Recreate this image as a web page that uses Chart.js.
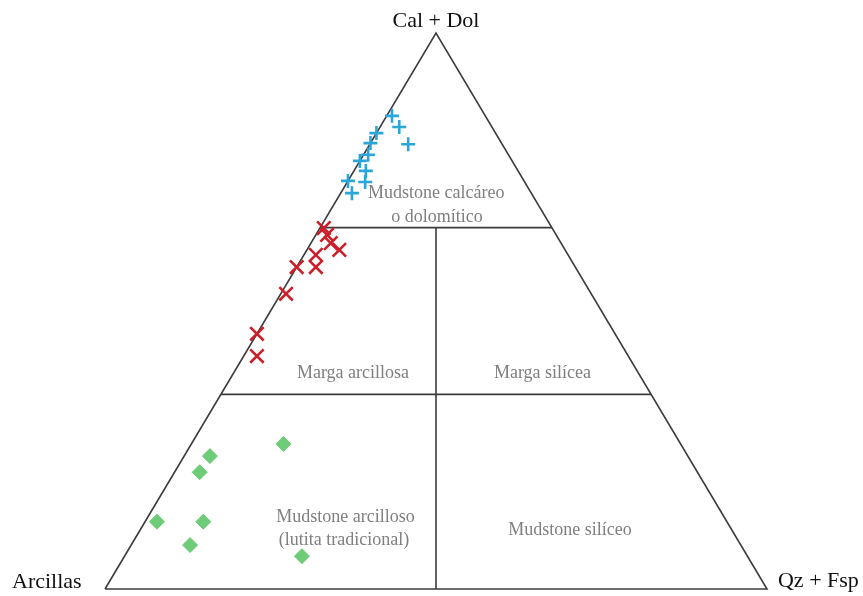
<!DOCTYPE html>
<html lang="es">
<head>
<meta charset="utf-8">
<title>Diagrama ternario de mudstones</title>
<script src="https://cdn.jsdelivr.net/npm/chart.js@4/dist/chart.umd.min.js"></script>
<style>
  html, body { margin: 0; padding: 0; background: #ffffff; }
  #wrap { width: 863px; height: 596px; }
</style>
</head>
<body>
<div id="wrap"><canvas id="ternario" width="863" height="596"></canvas></div>
<script>
// Vertex names of the ternary diagram
const vertices = ['Cal + Dol', 'Arcillas', 'Qz + Fsp'];

// Class boundaries on the Cal + Dol axis (%)
const limitesCalDol = [35, 65];

// Region names
const regiones = ['Mudstone calcáreo', 'o dolomítico', 'Marga arcillosa', 'Marga silícea',
                  'Mudstone arcilloso', '(lutita tradicional)', 'Mudstone silíceo'];

// Samples, composition in % (Cal + Dol, Arcillas, Qz + Fsp)
const calcareoCal = [85.1, 83.1, 80.0, 82.0, 80.2, 78.1, 77.0, 75.2, 73.2, 73.4, 71.2];
const calcareoArc = [14.1, 14.0, 14.2, 18.0, 19.8, 21.2, 23.0, 23.0, 24.1, 26.6, 27.1];
const calcareoQz  = [0.8, 2.9, 5.8, 0.0, 0.0, 0.7, 0.0, 1.8, 2.7, 0.0, 1.7];

const margaCal = [64.9, 63.7, 62.2, 61.0, 60.1, 57.9, 57.9, 53.1, 45.9, 41.9];
const margaArc = [34.5, 34.6, 34.8, 34.1, 38.1, 39.2, 42.1, 46.1, 54.1, 56.1];
const margaQz  = [0.6, 1.7, 3.0, 4.9, 1.8, 2.9, 0.0, 0.8, 0.0, 2.0];

const arcillosoCal = [26.1, 23.9, 21.0, 12.1, 12.1, 7.9, 5.9];
const arcillosoArc = [60.0, 72.2, 75.2, 86.1, 79.1, 83.2, 67.3];
const arcillosoQz  = [13.9, 3.9, 3.8, 1.8, 8.8, 8.9, 26.8];

// Ternary composition -> plane coordinates (Arcillas at (0,0), Qz + Fsp at (1,0), Cal + Dol at (0.5,1))
function ternario(cal, arc, qz) {
  return cal.map((c, i) => {
    const s = c + arc[i] + qz[i];
    const fc = c / s, fq = qz[i] / s;
    return { x: fq + fc / 2, y: fc };
  });
}
function puntoCal(c, q) { return { x: q + c / 2, y: c }; }

const lineStyle = { showLine: true, pointRadius: 0, borderColor: '#3c3c3c', borderWidth: 1.6, fill: false, clip: false, order: 10 };

const datasets = [
  {
    label: 'Mudstone calcáreo o dolomítico',
    data: ternario(calcareoCal, calcareoArc, calcareoQz),
    pointStyle: 'cross', pointRadius: 7, pointBorderWidth: 2.6,
    borderColor: '#2aa6d9', backgroundColor: '#2aa6d9', clip: false, order: 1
  },
  {
    label: 'Marga',
    data: ternario(margaCal, margaArc, margaQz),
    pointStyle: 'crossRot', pointRadius: 9.5, pointBorderWidth: 2.6,
    borderColor: '#cc1f2a', backgroundColor: '#cc1f2a', clip: false, order: 1
  },
  {
    label: 'Mudstone arcilloso',
    data: ternario(arcillosoCal, arcillosoArc, arcillosoQz),
    pointStyle: 'rectRot', pointRadius: 7.5, pointBorderWidth: 1,
    borderColor: '#6ecb78', backgroundColor: '#6ecb78', clip: false, order: 1
  },
  // triangle outline
  Object.assign({ data: [puntoCal(0, 0), puntoCal(1, 0), puntoCal(0, 1), puntoCal(0, 0)] }, lineStyle),
  // horizontal class boundaries
  ...limitesCalDol.map(l => Object.assign({ data: [puntoCal(l / 100, 0), puntoCal(l / 100, 1 - l / 100)] }, lineStyle)),
  // vertical split between clay-rich and silica-rich fields
  Object.assign({ data: [{ x: 0.5, y: 0 }, { x: 0.5, y: limitesCalDol[1] / 100 }] }, lineStyle)
];

// Text anchors in plane coordinates
const textos = [
  { t: vertices[0], x: 0.5,    y: 1.0108, align: 'center', size: 22, color: '#111111' },
  { t: vertices[1], x: -0.1405, y: 0.0018, align: 'left',  size: 22, color: '#111111' },
  { t: vertices[2], x: 1.0166, y: 0.0036, align: 'left',   size: 22, color: '#111111' },
  { t: regiones[0], x: 0.5003, y: 0.7032, align: 'center', size: 18, color: '#7f7f7f' },
  { t: regiones[1], x: 0.5015, y: 0.6600, align: 'center', size: 18, color: '#7f7f7f' },
  { t: regiones[2], x: 0.3746, y: 0.3795, align: 'center', size: 18, color: '#7f7f7f' },
  { t: regiones[3], x: 0.6609, y: 0.3795, align: 'center', size: 18, color: '#7f7f7f' },
  { t: regiones[4], x: 0.3633, y: 0.1205, align: 'center', size: 18, color: '#7f7f7f' },
  { t: regiones[5], x: 0.3610, y: 0.0791, align: 'center', size: 18, color: '#7f7f7f' },
  { t: regiones[6], x: 0.7024, y: 0.0971, align: 'center', size: 18, color: '#7f7f7f' }
];

const etiquetas = {
  id: 'etiquetas',
  beforeDatasetsDraw(chart) {
    const { ctx, scales } = chart;
    ctx.save();
    ctx.textBaseline = 'alphabetic';
    textos.forEach(o => {
      ctx.font = o.size + 'px "Liberation Serif", "Times New Roman", serif';
      ctx.fillStyle = o.color;
      ctx.textAlign = o.align;
      ctx.fillText(o.t, scales.x.getPixelForValue(o.x), scales.y.getPixelForValue(o.y));
    });
    ctx.restore();
  }
};

new Chart(document.getElementById('ternario'), {
  type: 'scatter',
  data: { datasets },
  options: {
    responsive: false,
    animation: false,
    layout: { padding: 0, autoPadding: false },
    plugins: { legend: { display: false }, tooltip: { enabled: false } },
    scales: {
      x: { type: 'linear', display: false, min: -0.15861, max: 1.14502 },
      y: { type: 'linear', display: false, min: -0.01259, max: 1.05935 }
    }
  },
  plugins: [etiquetas]
});
</script>
</body>
</html>
